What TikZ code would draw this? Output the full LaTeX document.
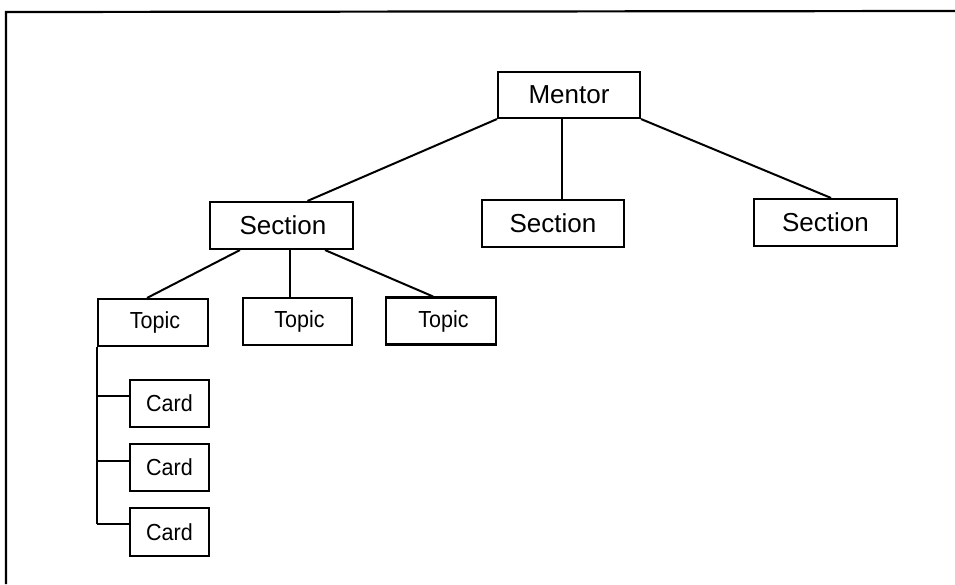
\documentclass[tikz,border=0pt]{standalone}
\usepackage{fontspec}
\setmainfont{Liberation Sans}
\begin{document}
\begin{tikzpicture}[x=1pt,y=-1pt,
  box/.style={draw,line width=2.1pt,inner sep=0pt,anchor=center},
  big/.style={box,font=\fontsize{26}{30}\selectfont},
  small/.style={box,font=\fontsize{21.5}{25}\selectfont},
  link/.style={line width=2pt},
  frame/.style={line width=2.2pt}]
\useasboundingbox (0,0) rectangle (955,584);
% frame
\coordinate (fl) at (6,584);
\coordinate (fc) at (6,12);
\coordinate (fr) at (955,11);
\draw[frame] (fl) -- (fc) -- (fr);
% nodes
\node[big,minimum width=142pt,minimum height=46pt] (m) at (569,95) {Mentor};
\node[big,minimum width=143pt,minimum height=47pt] (s1) at (281.5,225.5) {\hspace{3pt}Section};
\node[big,minimum width=142pt,minimum height=47pt] (s2) at (553,223.5) {Section};
\node[big,minimum width=143pt,minimum height=47pt] (s3) at (825.5,222.5) {Section};
\node[small,minimum width=110pt,minimum height=47pt] (t1) at (153,322.5) {\hspace{4pt}\scalebox{1}[1.08]{Topic}};
\node[small,minimum width=109pt,minimum height=47pt] (t2) at (297.5,321.5) {\hspace{4pt}\scalebox{1}[1.08]{Topic}};
\node[small,minimum width=110pt,minimum height=47pt] (t3) at (441,321) {\hspace{5pt}\scalebox{1}[1.08]{Topic}};
\node[small,minimum width=79pt,minimum height=47pt] (c1) at (169.5,403.5) {\scalebox{1}[1.08]{Card}};
\node[small,minimum width=79pt,minimum height=47pt] (c2) at (169.5,467.5) {\scalebox{1}[1.08]{Card}};
\node[small,minimum width=79pt,minimum height=48pt] (c3) at (169.5,532) {\scalebox{1}[1.08]{Card}};
% connectors mentor -> sections
\draw[link] (m.south west) -- ([xshift=26pt]s1.north);
\draw[link] ([xshift=-7.5pt]m.south) -- ([xshift=-7.5pt]m.south |- s2.north);
\draw[link] (m.south east) -- ([xshift=5.5pt]s3.north);
% section -> topics
\draw[link] ([xshift=-41.5pt]s1.south) -- ([xshift=-6pt]t1.north);
\draw[link] ([xshift=8.5pt]s1.south) -- ([xshift=8.5pt]s1.south |- t2.north);
\draw[link] ([xshift=43.5pt]s1.south) -- ([xshift=-8pt]t3.north);
% topic -> cards
\coordinate (tb) at ([yshift=8pt]c3.west -| t1.south west);
\draw[link] (t1.south west) -- (tb);
\draw[link] ([yshift=7.5pt]c1.west -| t1.south west) -- ([yshift=7.5pt]c1.west);
\draw[link] ([yshift=6.5pt]c2.west -| t1.south west) -- ([yshift=6.5pt]c2.west);
\draw[link] (tb) -- ([yshift=8pt]c3.west);
\end{tikzpicture}
\end{document}
